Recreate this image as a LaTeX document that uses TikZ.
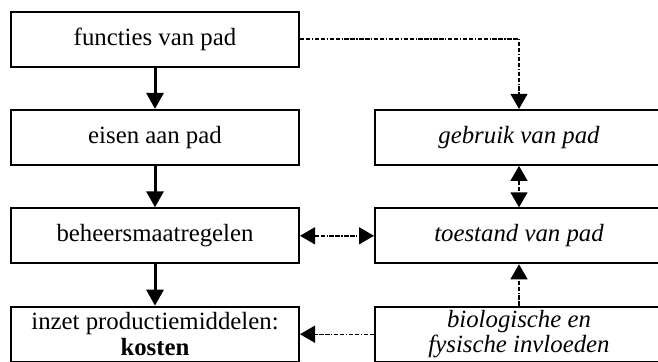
\documentclass[tikz,border=0pt]{standalone}
\usepackage{fontspec}
\setmainfont{Liberation Serif}
\usetikzlibrary{arrows.meta,positioning}

\tikzset{
  box/.style={draw, line width=1pt, minimum width=144pt, minimum height=27.5pt,
    inner sep=0pt, align=center, font=\fontsize{12.4}{12.8}\selectfont},
  flow/.style={-{Triangle[width=8.5pt,length=8pt]}, line width=1.5pt},
  link/.style={line width=0.7pt,
    dash pattern=on 2.2pt off 0.8pt on 2.2pt off 0.8pt on 0.6pt off 0.8pt},
  tip/.tip={Triangle[width=8.5pt,length=7.5pt]}
}

\begin{document}
\begin{tikzpicture}[x=0.5pt, y=0.5pt, node distance=49.2pt]
    \useasboundingbox (0,0) rectangle (658,361);
    \node[box] (functies) at (155,322) {functies van pad};
    \node[box] (eisen) [below of=functies] {eisen aan pad};
    \node[box] (beheer) [below of=eisen] {beheersmaatregelen};
    \node[box] (inzet) [below of=beheer] {inzet productiemiddelen:\\ \textbf{kosten}};
    \node[box, node distance=182pt] (gebruik) [right of=eisen] {\textit{gebruik van pad}};
    \node[box] (toestand) [below of=gebruik] {\textit{toestand van pad}};
    \node[box] (bio) [below of=toestand] {\textit{biologische en}\\ \textit{fysische invloeden}};
    \path[flow]
    (functies) edge (eisen)
    (eisen) edge (beheer)
    (beheer) edge (inzet)
    ;
    \draw[link, -tip] (functies.east) -| (gebruik.north);
    \draw[link, tip-tip] (gebruik) -- (toestand);
    \draw[link, tip-tip] (beheer) -- (toestand);
    \draw[link, -tip] (bio) -- (toestand);
    \draw[link, -tip] (bio) -- (inzet);
\end{tikzpicture}
\end{document}
